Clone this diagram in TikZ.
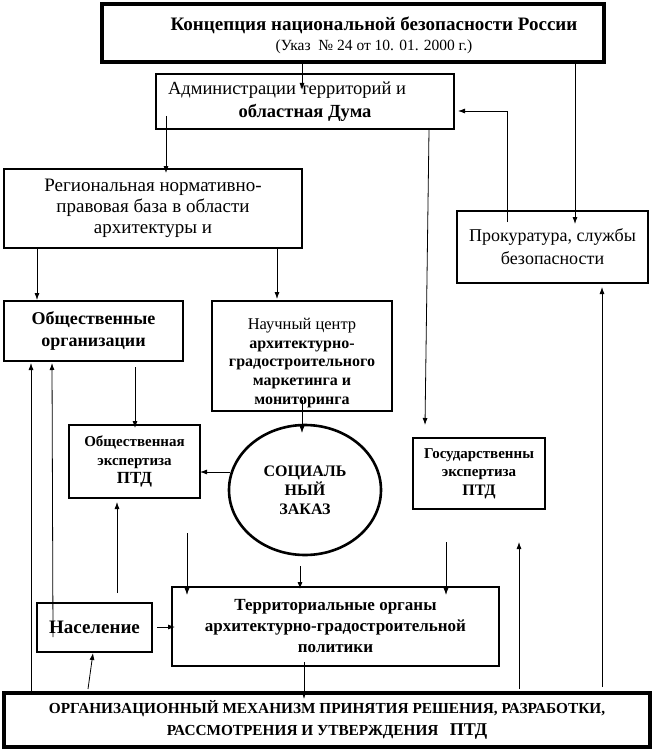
\documentclass[tikz,border=0pt]{standalone}
\usepackage{fontspec}
\setmainfont{Liberation Serif}
\usetikzlibrary{arrows.meta,shapes.geometric}
\newcommand{\fs}[2]{\fontsize{#1}{#2}\selectfont}
\begin{document}
\begin{tikzpicture}[x=1pt,y=-1pt,
  box/.style={draw, line width=1.8pt, inner sep=0pt, align=center},
  arr/.style={line width=0.8pt, -{Latex[length=7pt,width=5pt]}},
  ln/.style={line width=0.8pt}]
\useasboundingbox (0,0) rectangle (651,749);
\fill[white] (0,0) rectangle (651,749);
% boxes
\node[box, line width=3.6pt, minimum width=502pt, minimum height=58pt] (top) at (353,33) {};
\node[align=center, inner sep=0pt, font=\fs{19}{20}\bfseries] (toptext) at (374,35) {Концепция национальной безопасности России\\\fs{15.5}{20}\mdseries(Указ ~№ 24 от 10. 01. 2000 г.)};
\node[box, minimum width=298pt, minimum height=55pt, font=\fs{18.5}{23}] (admin) at (305,101.5) {Администрации территорий и\hspace*{36pt}\\\bfseries областная Дума};
\node[box, minimum width=298pt, minimum height=79pt, font=\fs{19}{21}] (region) at (153,208.5) {Региональная нормативно-\\правовая база в области\\архитектуры и};
\node[box, minimum width=191pt, minimum height=72pt, font=\fs{18}{23}] (prok) at (552.5,247) {Прокуратура, службы\\безопасности};
\node[box, minimum width=179pt, minimum height=60pt, font=\fs{18}{22}\bfseries] (obor) at (93.5,331) {Общественные\\организации};
\node[box, minimum width=180pt, minimum height=110pt, font=\fs{16}{18.7}] (nauch) at (302,356) {\rule{0pt}{25pt}\fs{16.5}{18.7}Научный центр\\\bfseries архитектурно-\\\bfseries градостроительного\\\bfseries маркетинга и\\\bfseries мониторинга};
\node[box, minimum width=131pt, minimum height=73pt, font=\fs{15}{18.5}\bfseries] (obeks) at (134.5,461.5) {Общественная\\экспертиза\\\fs{17}{18.5}ПТД};
\node[box, minimum width=132pt, minimum height=71pt, font=\fs{15}{18.5}\bfseries] (goseks) at (479,473.5) {Государственны\\экспертиза\\\fs{16}{18.5}ПТД};
\node[draw, ellipse, line width=2.6pt, minimum width=152pt, minimum height=130pt, inner sep=0pt, align=center, font=\fs{16}{19}\bfseries] (zakaz) at (305,490) {СОЦИАЛЬ\\НЫЙ\\ЗАКАЗ};
\node[box, minimum width=327pt, minimum height=79pt, font=\fs{17}{21}\bfseries] (terr) at (335.5,626.5) {Территориальные органы\\архитектурно-градостроительной\\политики};
\node[box, line width=2.2pt, minimum width=115pt, minimum height=49pt, font=\fs{19}{20}\bfseries] (nasel) at (94.5,627.5) {Население};
\node[box, line width=3.8pt, minimum width=646pt, minimum height=54pt, font=\fs{15.3}{22}\bfseries] (bottom) at (327,720) {ОРГАНИЗАЦИОННЫЙ МЕХАНИЗМ ПРИНЯТИЯ РЕШЕНИЯ, РАЗРАБОТКИ,\\РАССМОТРЕНИЯ И УТВЕРЖДЕНИЯ \ \ \fs{18}{22}ПТД};
% connectors
\draw[arr] (302,0 |- top.south) -- (302,90);
\draw[arr] (575,0 |- top.south) -- (575,224);
\draw[arr] (507,222) |- (458,111);
\draw[arr] (166,116) -- (166,173);
\draw[arr] (429,0 |- admin.south) -- (425,425);
\draw[arr] (37,0 |- region.south) -- (37,300);
\draw[arr] (277,0 |- region.south) -- (277,299);
\draw[arr] (302,400) -- (302,433);
\draw[arr] (230,472) -- (200,472);
\draw[arr] (135,367) -- (135,428);
\coordinate (f1) at (117,593);
\draw[arr] (f1) -- (117,502);
\draw[arr] (53,637) -- (52,363);
\draw[arr] (31,692) -- (31,363);
\coordinate (f2) at (187,533);
\draw[arr] (f2) -- (187,595);
\draw[arr] (300,566) -- (300,589);
\coordinate (f3) at (446,542);
\draw[arr] (f3) -- (446,595);
\draw[arr] (157,627) -- (175,627);
\draw[arr] (88,689) -- (93,653);
\draw[arr] (304,662) -- (304,699);
\coordinate (f4) at (519,542);
\draw[arr] (519,689) -- (f4);
\draw[arr] (602,687) -- (602,287);
\end{tikzpicture}
\end{document}
